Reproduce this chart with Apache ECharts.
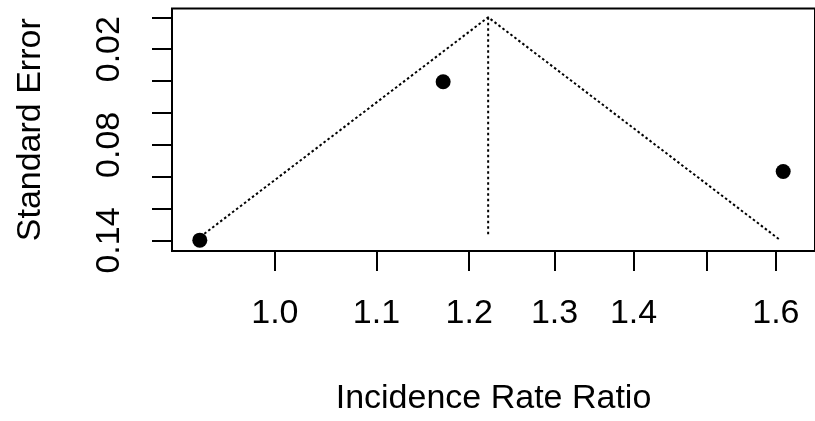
<!DOCTYPE html>
<html>
<head>
<meta charset="utf-8">
<script src="https://cdn.jsdelivr.net/npm/echarts@6/dist/echarts.min.js"></script>
<style>
  html, body { margin: 0; padding: 0; background: #fff; }
  #chart { width: 815px; height: 421px; }
</style>
</head>
<body>
<div id="chart"></div>
<script>
// Study points (incidence rate ratio, standard error)
const studyIRR = [0.932, 1.171, 1.611];
const studySE = [0.1398, 0.0404, 0.0967];

// Funnel outline (pseudo-confidence region)
const funnelIRR = [0.929, 1.2215, 1.606];
const funnelSE = [0.1396, 0.0, 0.1396];

// Reference line at pooled estimate
const refIRR = [1.2215, 1.2215];
const refSE = [0.0, 0.137];

// Axis ticks
const xTickValues = [1.0, 1.1, 1.2, 1.3, 1.4, 1.5, 1.6];
const xLabelValues = [1.0, 1.1, 1.2, 1.3, 1.4, 1.6];
const yTickValues = [0, 0.02, 0.04, 0.06, 0.08, 0.10, 0.12, 0.14];
const yLabelValues = [0.02, 0.08, 0.14];

const FONT = 'Liberation Sans, Arial, sans-serif';
const pairs = (xs, ys) => xs.map((x, i) => [x, ys[i]]);

const chart = echarts.init(document.getElementById('chart'), null, { renderer: 'canvas' });
chart.setOption({
  animation: false,
  backgroundColor: '#ffffff',
  grid: {
    left: 172, top: 8.5, width: 646, height: 244.5,
    show: true, borderColor: '#000', borderWidth: 2, backgroundColor: 'transparent'
  },
  xAxis: {
    type: 'log',
    logBase: Math.E,
    position: 'bottom',
    min: 0.908,
    max: 1.6598,
    name: 'Incidence Rate Ratio',
    nameLocation: 'middle',
    nameGap: 131,
    nameTextStyle: { fontFamily: FONT, fontSize: 34, color: '#000' },
    axisLine: { show: false, onZero: false },
    splitLine: { show: false },
    minorTick: { show: false },
    axisTick: { show: true, length: 20, lineStyle: { color: '#000', width: 2 }, customValues: xTickValues },
    axisLabel: {
      show: true, margin: 46, fontFamily: FONT, fontSize: 34, color: '#000',
      customValues: xLabelValues,
      formatter: v => Number(v).toFixed(1)
    }
  },
  yAxis: {
    type: 'value',
    inverse: true,
    position: 'left',
    min: -0.0055,
    max: 0.1466,
    name: 'Standard Error',
    nameLocation: 'middle',
    nameRotate: 90,
    nameGap: 124,
    nameTextStyle: { fontFamily: FONT, fontSize: 34, color: '#000' },
    axisLine: { show: false, onZero: false },
    splitLine: { show: false },
    axisTick: { show: true, length: 20, lineStyle: { color: '#000', width: 2 }, customValues: yTickValues },
    axisLabel: {
      show: true, rotate: 90, margin: 45, fontFamily: FONT, fontSize: 34, color: '#000',
      customValues: yLabelValues,
      formatter: v => Number(v).toFixed(2)
    }
  },
  series: [
    {
      type: 'line',
      data: pairs(funnelIRR, funnelSE),
      symbol: 'none',
      lineStyle: { color: '#000', width: 2, type: [2.5, 2.5] },
      silent: true, z: 2
    },
    {
      type: 'line',
      data: pairs(refIRR, refSE),
      symbol: 'none',
      lineStyle: { color: '#000', width: 2, type: [2.5, 3] },
      silent: true, z: 2
    },
    {
      type: 'scatter',
      data: pairs(studyIRR, studySE),
      symbol: 'circle',
      symbolSize: 15,
      itemStyle: { color: '#000', opacity: 1 },
      z: 3
    }
  ]
});
</script>
</body>
</html>
